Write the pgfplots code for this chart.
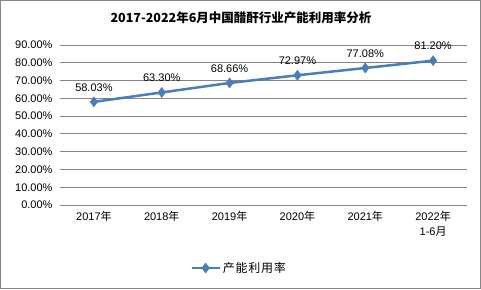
\documentclass[border=0pt]{standalone}
\usepackage{pgfplots}
\pgfplotsset{compat=1.18}
\usepackage{fontspec}
\setmainfont{Liberation Sans}
\newfontfamily\cjk{Noto Sans CJK SC}[LetterSpace=6]
\newfontfamily\cjktitle{Noto Sans CJK SC}
\definecolor{lineblue}{RGB}{74,126,187}
\definecolor{gridgray}{RGB}{134,134,134}
\definecolor{framegray}{RGB}{134,134,134}
\begin{document}
\begin{tikzpicture}[x=1pt,y=1pt]
\draw[framegray, line width=0.8pt] (0.4,0.4) rectangle (480.6,288.6);
\node[font=\cjktitle\bfseries\fontsize{12.5}{14}\selectfont, anchor=center] at (241,271) {2017-2022年6月中国醋酐行业产能利用率分析};
\begin{axis}[
  at={(60pt,84pt)}, anchor=south west,
  scale only axis, width=407pt, height=160pt,
  xmin=-0.5, xmax=5.5, ymin=0, ymax=90,
  ytick={0,10,...,90},
  xtick={0,1,2,3,4,5},
  xticklabels={2017{\cjktitle 年},2018{\cjktitle 年},2019{\cjktitle 年},2020{\cjktitle 年},2021{\cjktitle 年},{2022{\cjktitle 年}\\1-6{\cjktitle 月}}},
  xticklabel style={align=center, font=\fontsize{11}{15}\selectfont, yshift=-3pt},
  yticklabel style={font=\fontsize{11}{12}\selectfont, xshift=-4pt},
  /pgf/number format/assume math mode=true,
  yticklabel={\pgfmathprintnumber[fixed,fixed zerofill,precision=2]{\tick}\%},
  ymajorgrids, grid style={gridgray, line width=0.8pt},
  axis y line*=left,
  y axis line style={draw=none},
  axis x line*=bottom,
  x axis line style={gridgray, line width=0.8pt, -},
  major tick length=0pt,
  nodes near coords={\pgfmathprintnumber[fixed,fixed zerofill,precision=2]{\pgfplotspointmeta}\%},
  nodes near coords style={font=\fontsize{11}{12}\selectfont, yshift=7pt, black},
  point meta=y,
  legend style={at={(0.44,-0.394)}, anchor=center, draw=none, fill=none, font=\cjk\fontsize{12}{13}\selectfont},
  legend image code/.code={\draw[#1] (0pt,0pt) -- (28pt,0pt); \draw[#1, mark repeat=2, mark phase=2] plot coordinates {(0pt,0pt) (14pt,0pt) (28pt,0pt)};},
  legend cell align=left,
]
\addplot[lineblue, line width=2.5pt, mark=diamond*, mark size=5pt, mark options={fill=lineblue, line width=0.5pt}]
  coordinates {(0,58.03) (1,63.30) (2,68.66) (3,72.97) (4,77.08) (5,81.20)};
\addlegendentry{产能利用率}
\end{axis}
\end{tikzpicture}
\end{document}
